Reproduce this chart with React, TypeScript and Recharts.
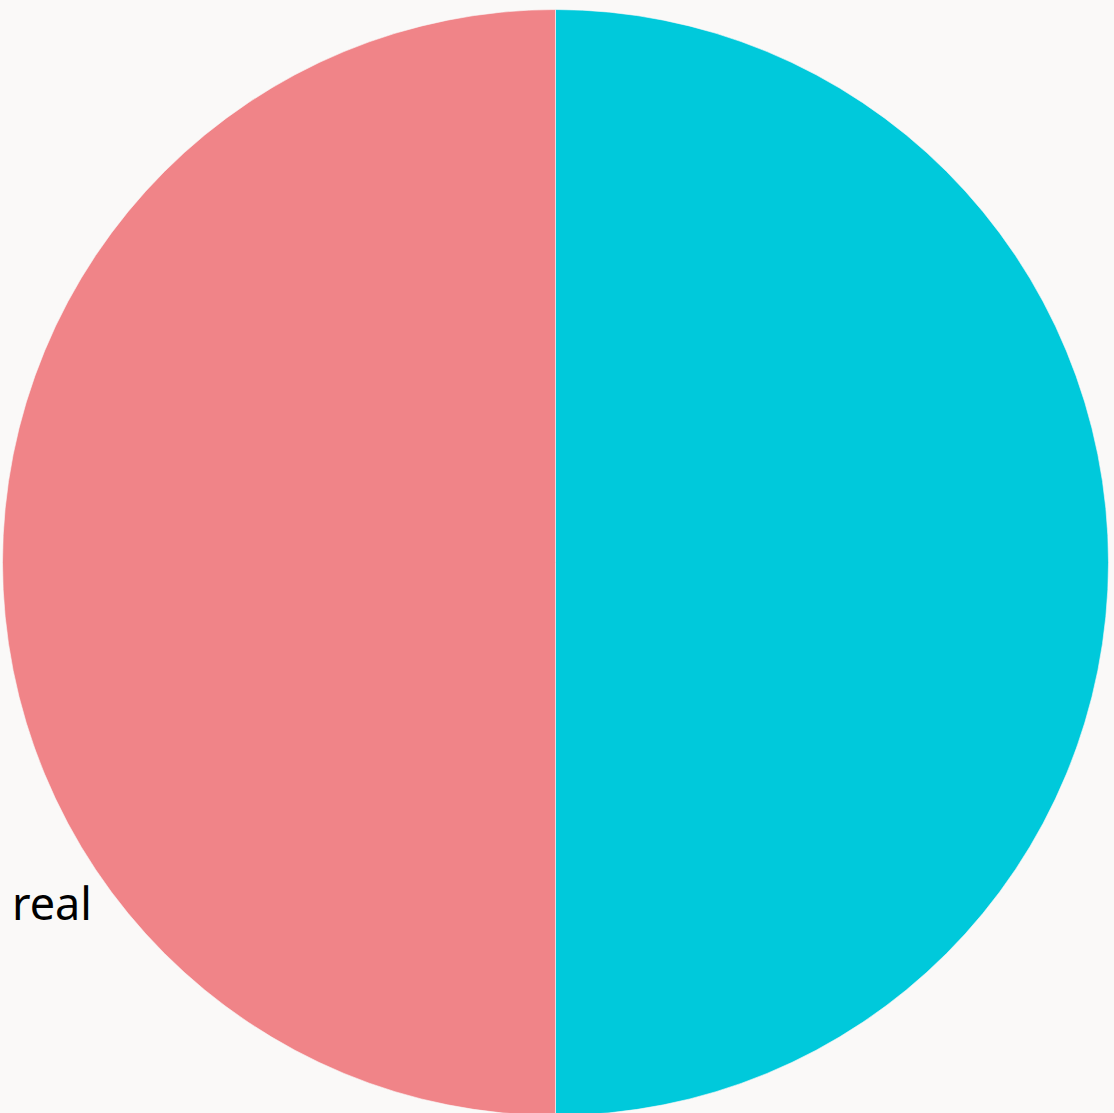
import React from 'react';
import { PieChart, Pie, Cell } from 'recharts';

const categories = ['fake', 'real'];
const shares = [50, 50];
const sliceColors = ['#00C9DB', '#F08488'];
const labelText = 'real';

const data = categories.map((name, i) => ({ name, value: shares[i] }));

export default function App() {
  return (
    <div
      style={{
        position: 'fixed',
        top: 0,
        left: 0,
        width: 1114,
        height: 1113,
        background: '#FAF9F8',
        overflow: 'hidden',
      }}
    >
      <PieChart width={1114} height={1113} margin={{ top: 0, right: 0, bottom: 0, left: 0 }}>
        <Pie
          data={data}
          dataKey="value"
          nameKey="name"
          cx={555.5}
          cy={562.5}
          outerRadius={553}
          startAngle={90}
          endAngle={-270}
          stroke="#FAF9F8"
          strokeWidth={0.6}
          isAnimationActive={false}
        >
          {data.map((d, i) => (
            <Cell key={d.name} fill={sliceColors[i]} />
          ))}
        </Pie>
      </PieChart>
      <svg
        width={1114}
        height={1113}
        style={{ position: 'absolute', top: 0, left: 0, pointerEvents: 'none' }}
      >
        <text x={12} y={920} fontSize={45} fontFamily="'Noto Sans', sans-serif" fill="#000">
          {labelText}
        </text>
      </svg>
    </div>
  );
}
